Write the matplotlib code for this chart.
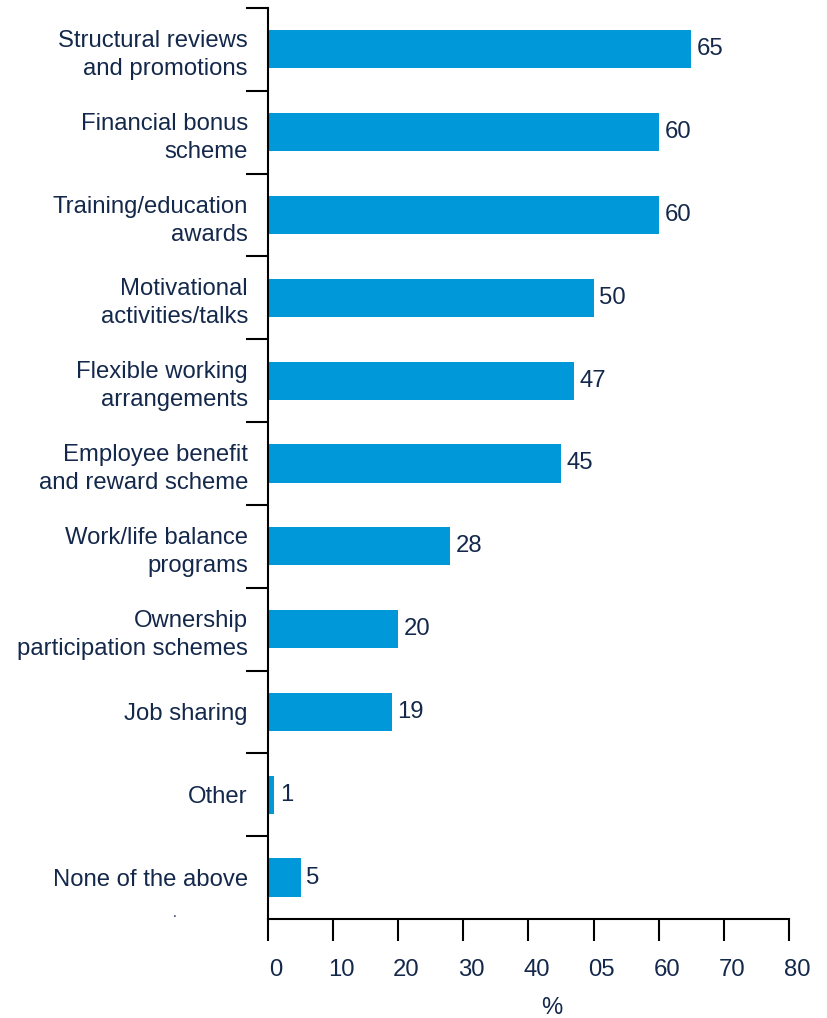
import numpy as np
import matplotlib.pyplot as plt
from matplotlib.transforms import ScaledTranslation

# Survey categories, top to bottom
categories = [
    'Structural reviews\nand promotions',
    'Financial bonus\nscheme',
    'Training/education\nawards',
    'Motivational\nactivities/talks',
    'Flexible working\narrangements',
    'Employee benefit\nand reward scheme',
    'Work/life balance\nprograms',
    'Ownership\nparticipation schemes',
    'Job sharing',
    'Other',
    'None of the above',
]
values = [65, 60, 60, 50, 47, 45, 28, 20, 19, 1, 5]
xtick_values = [0, 10, 20, 30, 40, 50, 60, 70, 80]
xtick_labels = ['0', '10', '20', '30', '40', '05', '60', '70', '80']

bar_color = '#0098d8'
text_color = '#14284b'

plt.rcParams['font.family'] = ['Liberation Sans', 'DejaVu Sans']
plt.rcParams['font.size'] = 17.2

fig = plt.figure(figsize=(8.27, 10.18), dpi=100)
ax = fig.add_axes([0.324, 0.0973, 0.63, 0.8948])

y = np.arange(len(categories))
bars = ax.barh(y, values, height=0.46, color=bar_color)

# value labels at the end of each bar
for rect, v in zip(bars, values):
    ax.annotate(str(v), xy=(rect.get_width(), rect.get_y() + rect.get_height() / 2),
                xytext=(4, 0), textcoords='offset points',
                ha='left', va='center', color=text_color)

ax.set_ylim(len(categories) - 0.5, -0.5)
ax.set_xlim(0, 80)

# category names at bar centres, tick marks between categories
ax.set_yticks(y)
ax.set_yticklabels(categories, color=text_color, linespacing=1.35)
ax.set_yticks(np.arange(len(categories)) - 0.5, minor=True)
ax.tick_params(axis='y', which='major', length=0, pad=14.4)
ax.tick_params(axis='y', which='minor', length=16, width=1.5, direction='out')

ax.set_xticks(xtick_values)
ax.set_xticklabels(xtick_labels, color=text_color)
ax.tick_params(axis='x', length=16, width=1.5, direction='out', pad=13)
for lbl in ax.get_xticklabels():
    lbl.set_transform(lbl.get_transform() + ScaledTranslation(8 / 100, 0, fig.dpi_scale_trans))

for side in ['top', 'right']:
    ax.spines[side].set_visible(False)
for side in ['left', 'bottom']:
    ax.spines[side].set_linewidth(1.5)

fig.text(552 / 827, 1 - 1008 / 1018, '%', ha='center', va='center', color=text_color)
fig.text(175 / 827, 1 - 913 / 1018, '.', ha='center', va='center', color=text_color, fontsize=10)

fig.savefig('out.png', dpi=100)
